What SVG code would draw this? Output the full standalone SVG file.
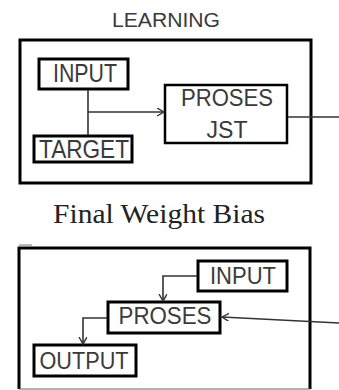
<svg xmlns="http://www.w3.org/2000/svg" width="339" height="390" viewBox="0 0 339 390">
<style>
.box{fill:#fff;stroke:#000;stroke-width:3}
.thin{fill:#fff;stroke:#000;stroke-width:2.5}
.outer{fill:none;stroke:#000;stroke-width:3}
.lbl{font-family:"Liberation Sans",Arial,sans-serif;fill:#3a3a3a;text-anchor:middle}
.conn{fill:none;stroke:#333;stroke-width:1.6}
</style>
<defs>
<marker id="arr" markerUnits="userSpaceOnUse" markerWidth="10" markerHeight="10" refX="7" refY="4" orient="auto">
<path d="M0,0 L7,4 L0,8" fill="none" stroke="#333" stroke-width="1.4"/>
</marker>
</defs>
<rect width="339" height="390" fill="#fff"/>
<g id="learning">
<text class="lbl" x="166" y="27" font-size="20" textLength="108" lengthAdjust="spacingAndGlyphs">LEARNING</text>
<rect class="outer" x="20" y="40" width="291" height="143"/>
</g>
<g id="input1">
<rect class="box" x="39" y="59" width="89" height="30"/>
<text class="lbl" x="85" y="82" font-size="25" textLength="64" lengthAdjust="spacingAndGlyphs">INPUT</text>
</g>
<g id="target">
<rect class="box" x="34" y="136" width="98" height="26"/>
<text class="lbl" x="84" y="158" font-size="25" textLength="90" lengthAdjust="spacingAndGlyphs">TARGET</text>
</g>
<g id="prosesjst">
<rect class="thin" x="165" y="85" width="122" height="58"/>
<text class="lbl" x="227" y="106" font-size="23" textLength="92" lengthAdjust="spacingAndGlyphs">PROSES</text>
<text class="lbl" x="227" y="138" font-size="23" textLength="41" lengthAdjust="spacingAndGlyphs">JST</text>
</g>
<g id="final">
<text x="159" y="223" font-family="'Liberation Serif','Times New Roman',serif" font-size="27" fill="#222" text-anchor="middle" textLength="212" lengthAdjust="spacingAndGlyphs">Final Weight Bias</text>
<line x1="19" y1="245" x2="32" y2="245" stroke="#777" stroke-width="1"/>
<path class="outer" d="M19,389 V248 H310 V389"/>
<line x1="19" y1="389" x2="310" y2="389" stroke="#666" stroke-width="1.2"/>
</g>
<g id="input2">
<rect class="box" x="198" y="261" width="89" height="30"/>
<text class="lbl" x="243" y="284" font-size="24" textLength="66" lengthAdjust="spacingAndGlyphs">INPUT</text>
</g>
<g id="proses">
<rect class="box" x="108" y="302" width="112" height="31"/>
<text class="lbl" x="165" y="324" font-size="23" textLength="93" lengthAdjust="spacingAndGlyphs">PROSES</text>
</g>
<g id="output">
<rect class="box" x="34" y="345" width="102" height="31"/>
<text class="lbl" x="84" y="369" font-size="24" textLength="89" lengthAdjust="spacingAndGlyphs">OUTPUT</text>
</g>
<g id="connectors">
<line class="conn" x1="88" y1="90" x2="88" y2="135"/>
<line class="conn" x1="88" y1="112" x2="164" y2="112" marker-end="url(#arr)"/>
<line class="conn" x1="288" y1="117" x2="339" y2="117"/>
<path class="conn" d="M197,276 H163 V301" marker-end="url(#arr)"/>
<path class="conn" d="M107,318 H83 V344" marker-end="url(#arr)"/>
<line class="conn" x1="339" y1="323" x2="222" y2="317" marker-end="url(#arr)"/>
</g>
</svg>
